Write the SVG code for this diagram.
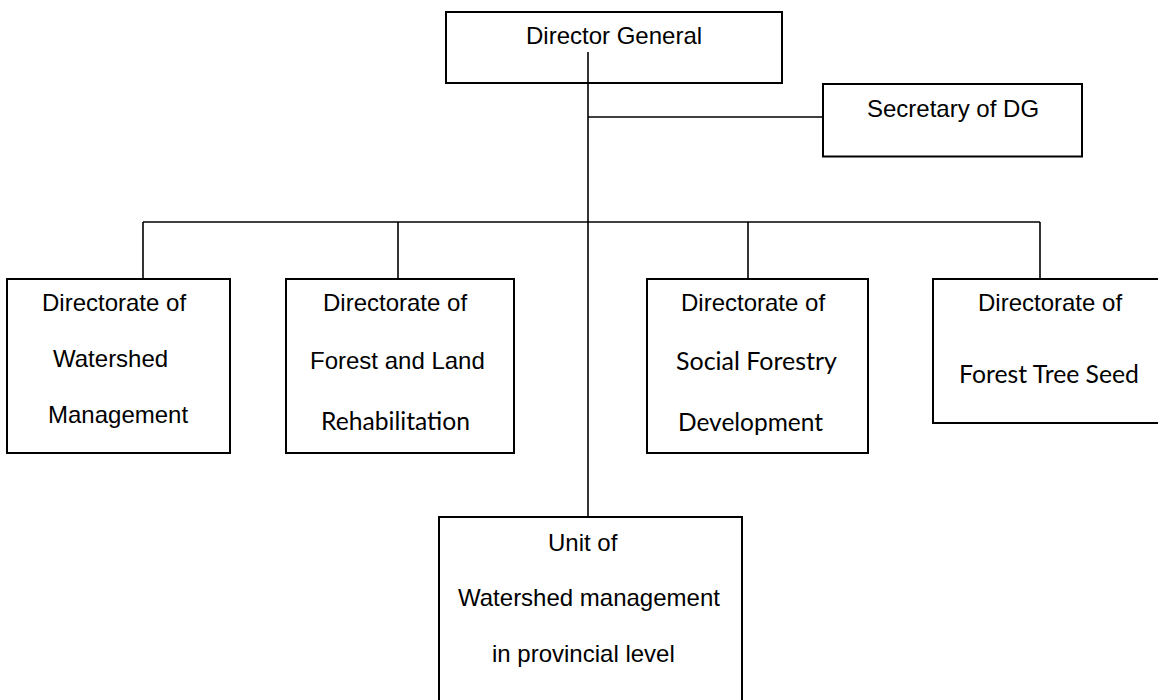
<svg xmlns="http://www.w3.org/2000/svg" width="1158" height="700" viewBox="0 0 1158 700">
<style>
.box{fill:#fff;stroke:#000;stroke-width:2}
.ln{stroke:#000;stroke-width:1.6;fill:none}
.a{font-family:"Liberation Sans",Arial,sans-serif;font-size:24px;fill:#000}
.c{font-family:Lato,"Open Sans",sans-serif;font-size:25px;fill:#000}
</style>
<rect width="1158" height="700" fill="#fff"/>
<g id="connectors">
<line class="ln" x1="588" y1="52" x2="588" y2="517"/>
<line class="ln" x1="588" y1="117" x2="823" y2="117"/>
<line class="ln" x1="143" y1="222" x2="1040" y2="222"/>
<line class="ln" x1="143" y1="222" x2="143" y2="279"/>
<line class="ln" x1="398" y1="222" x2="398" y2="279"/>
<line class="ln" x1="748" y1="222" x2="748" y2="279"/>
<line class="ln" x1="1040" y1="222" x2="1040" y2="279"/>
</g>
<g id="director-general">
<rect class="box" x="446" y="12" width="336" height="71"/>
<line class="ln" x1="588" y1="52" x2="588" y2="83"/>
<text class="a" x="526" y="44">Director General</text>
</g>
<g id="secretary">
<rect class="box" x="823" y="84" width="259" height="72.5"/>
<text class="a" x="867" y="117">Secretary of DG</text>
</g>
<g id="dir-watershed">
<rect class="box" x="7" y="279" width="223" height="174"/>
<text class="a" x="42" y="311">Directorate of</text>
<text class="a" x="53" y="367">Watershed</text>
<text class="a" x="48" y="423">Management</text>
</g>
<g id="dir-forest-land">
<rect class="box" x="286" y="279" width="228" height="174"/>
<text class="a" x="323" y="311">Directorate of</text>
<text class="a" x="310" y="369">Forest and Land</text>
<text class="c" x="321" y="430" textLength="149" lengthAdjust="spacingAndGlyphs">Rehabilitation</text>
</g>
<g id="dir-social-forestry">
<rect class="box" x="647" y="279" width="221" height="174"/>
<text class="a" x="681" y="311">Directorate of</text>
<text class="c" x="676" y="370" textLength="161" lengthAdjust="spacingAndGlyphs">Social Forestry</text>
<text class="c" x="678" y="431" textLength="145" lengthAdjust="spacingAndGlyphs">Development</text>
</g>
<g id="dir-forest-tree-seed">
<rect class="box" x="933" y="279" width="233" height="144"/>
<text class="a" x="978" y="311">Directorate of</text>
<text class="c" x="959" y="383" textLength="180" lengthAdjust="spacingAndGlyphs">Forest Tree Seed</text>
</g>
<g id="unit-watershed">
<rect class="box" x="439" y="517" width="303" height="200"/>
<text class="a" x="548" y="551">Unit of</text>
<text class="a" x="458" y="606">Watershed management</text>
<text class="a" x="492" y="662">in provincial level</text>
</g>
</svg>
